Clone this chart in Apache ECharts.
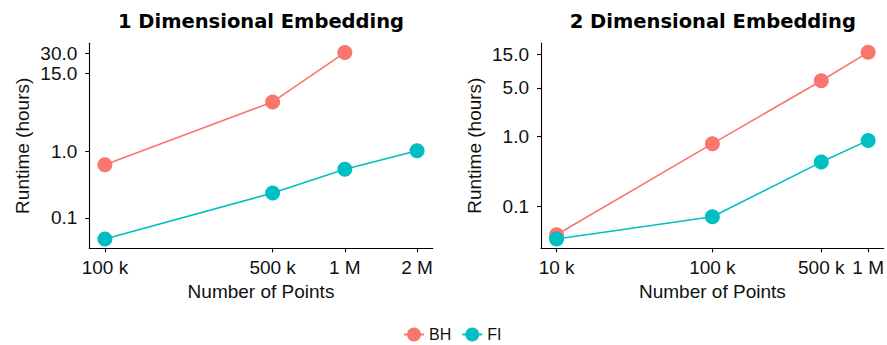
<!DOCTYPE html>
<html>
<head>
<meta charset="utf-8">
<script src="https://cdn.jsdelivr.net/npm/echarts@6/dist/echarts.min.js"></script>
<style>
html,body{margin:0;padding:0;background:#fff;}
#chart{width:887px;height:345px;}
</style>
</head>
<body>
<div id="chart"></div>
<script>
// ---- data ----
const leftBhX = [1e5, 5e5, 1e6];
const leftBhY = [0.63, 5.6, 31];
const leftFiX = [1e5, 5e5, 1e6, 2e6];
const leftFiY = [0.048, 0.237, 0.54, 1.03];

const rightX = [1e4, 1e5, 5e5, 1e6];
const rightBhY = [0.039, 0.79, 6.3, 16.1];
const rightFiY = [0.034, 0.0706, 0.43, 0.88];

const leftXTicks = [1e5, 5e5, 1e6, 2e6];
const leftXLabels = ['100 k', '500 k', '1 M', '2 M'];
const rightXTicks = [1e4, 1e5, 5e5, 1e6];
const rightXLabels = ['10 k', '100 k', '500 k', '1 M'];
const leftYTicks = [0.1, 1, 15, 30];
const leftYLabels = ['0.1', '1.0', '15.0', '30.0'];
const rightYTicks = [0.1, 1, 5, 15];
const rightYLabels = ['0.1', '1.0', '5.0', '15.0'];

const seriesNames = ['BH', 'FI'];
const titles = ['1 Dimensional Embedding', '2 Dimensional Embedding'];

// ---- helpers ----
const L = Math.log10;
function pairs(xs, ys) { return xs.map((x, i) => [L(x), L(ys[i])]); }
function expand(vals) {
  const lv = vals.map(L);
  const mn = Math.min(...lv), mx = Math.max(...lv);
  const pad = (mx - mn) * 0.05;
  return [mn - pad, mx + pad];
}
function labeler(ticks, labels) {
  return function (v) {
    let best = 0, d = Infinity;
    ticks.forEach((t, i) => { const dd = Math.abs(L(t) - v); if (dd < d) { d = dd; best = i; } });
    return labels[best];
  };
}

const COLORS = ['#F8766D', '#00BFC4'];
const FONT = '"Liberation Sans", Arial, sans-serif';
const TXT = '#111111';

const leftXExt = expand(leftFiX.concat(leftBhX));
const leftYExt = expand(leftBhY.concat(leftFiY));
const rightXExt = expand(rightX);
const rightYExt = expand(rightBhY.concat(rightFiY));

function xAxis(idx, ext, ticks, labels) {
  return {
    type: 'value', gridIndex: idx, min: ext[0], max: ext[1],
    name: 'Number of Points', nameLocation: 'middle', nameGap: 33,
    nameTextStyle: { fontFamily: FONT, fontSize: 19, color: TXT },
    axisLine: { show: true, onZero: false, lineStyle: { color: '#000', width: 1.1 } },
    axisTick: { show: true, length: 4, lineStyle: { color: '#000', width: 1.1 }, customValues: ticks.map(L) },
    axisLabel: { show: true, margin: 10, fontFamily: FONT, fontSize: 19, color: TXT,
      customValues: ticks.map(L), formatter: labeler(ticks, labels), hideOverlap: false },
    splitLine: { show: false }
  };
}
function yAxis(idx, ext, ticks, labels) {
  return {
    type: 'value', gridIndex: idx, min: ext[0], max: ext[1],
    name: 'Runtime (hours)', nameLocation: 'middle', nameGap: 57, nameRotate: 90,
    nameTextStyle: { fontFamily: FONT, fontSize: 19, color: TXT },
    axisLine: { show: true, onZero: false, lineStyle: { color: '#000', width: 1.1 } },
    axisTick: { show: true, length: 4, lineStyle: { color: '#000', width: 1.1 }, customValues: ticks.map(L) },
    axisLabel: { show: true, margin: 12, fontFamily: FONT, fontSize: 19, color: TXT,
      customValues: ticks.map(L), formatter: labeler(ticks, labels), hideOverlap: false },
    splitLine: { show: false }
  };
}
function line(name, idx, data, color, z) {
  return {
    name: name, type: 'line', xAxisIndex: idx, yAxisIndex: idx, data: data,
    symbol: 'circle', symbolSize: 15, showSymbol: true, animation: false, z: z,
    lineStyle: { color: color, width: 1.6 },
    itemStyle: { color: color, borderWidth: 0 },
    emphasis: { disabled: true }
  };
}

const chart = echarts.init(document.getElementById('chart'), null, { renderer: 'svg' });
chart.setOption({
  animation: false,
  backgroundColor: '#ffffff',
  grid: [
    { left: 89.3, top: 43.3, width: 343.4, height: 205 },
    { left: 541, top: 43, width: 343.7, height: 205.3 }
  ],
  xAxis: [
    xAxis(0, leftXExt, leftXTicks, leftXLabels),
    xAxis(1, rightXExt, rightXTicks, rightXLabels)
  ],
  yAxis: [
    yAxis(0, leftYExt, leftYTicks, leftYLabels),
    yAxis(1, rightYExt, rightYTicks, rightYLabels)
  ],
  legend: {
    data: seriesNames, left: 403, top: 326.5, padding: 0,
    itemWidth: 20, itemHeight: 17.5, itemGap: 10,
    textStyle: { fontFamily: FONT, fontSize: 16, color: TXT }
  },
  graphic: [
    { type: 'text', x: 261, y: 21, style: { text: titles[0], x: 0, y: 0,
      font: 'bold 19.5px "DejaVu Sans", sans-serif', fill: '#000', textAlign: 'center', textVerticalAlign: 'middle' } },
    { type: 'text', x: 712.8, y: 21, style: { text: titles[1], x: 0, y: 0,
      font: 'bold 19.5px "DejaVu Sans", sans-serif', fill: '#000', textAlign: 'center', textVerticalAlign: 'middle' } }
  ],
  series: [
    line(seriesNames[0], 0, pairs(leftBhX, leftBhY), COLORS[0], 2),
    line(seriesNames[1], 0, pairs(leftFiX, leftFiY), COLORS[1], 3),
    line(seriesNames[0], 1, pairs(rightX, rightBhY), COLORS[0], 2),
    line(seriesNames[1], 1, pairs(rightX, rightFiY), COLORS[1], 3)
  ]
});
</script>
</body>
</html>
